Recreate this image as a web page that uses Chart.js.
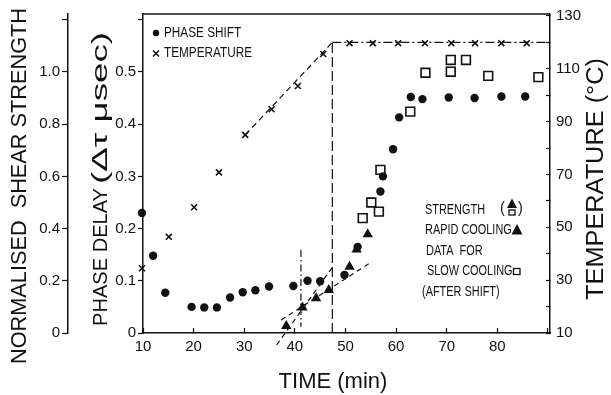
<!DOCTYPE html>
<html>
<head>
<meta charset="utf-8">
<script src="https://cdn.jsdelivr.net/npm/chart.js@4.4.1/dist/chart.umd.min.js"></script>
<style>
  html, body { margin: 0; padding: 0; background: #fff; }
  #wrap { width: 611px; height: 395px; }
</style>
</head>
<body>
<div id="wrap"><canvas id="chart"></canvas></div>
<script>
// Phase shift measurements (phase delay, usec) against cure time (min)
const phaseTime  = [9.8, 12.0, 14.4, 19.6, 22.1, 24.6, 27.2, 29.7, 32.2, 34.9, 39.7, 42.5, 45.0,
                    49.8, 52.4, 56.9, 57.4, 59.4, 60.6, 62.9, 65.2, 70.4, 75.5, 80.8, 85.5];
const phaseDelay = [0.230, 0.148, 0.077, 0.050, 0.049, 0.049, 0.068, 0.078, 0.082, 0.089, 0.090, 0.100, 0.099,
                    0.111, 0.165, 0.271, 0.300, 0.352, 0.413, 0.452, 0.448, 0.451, 0.450, 0.453, 0.453];

// Temperature readings (deg C)
const tempTime  = [9.8, 15.1, 20.1, 25.0, 30.2, 35.4, 40.6, 45.6, 50.8, 55.4, 60.4, 65.7, 70.9, 75.6, 80.8, 85.8];
const tempValue = [34.5, 46.4, 57.6, 70.8, 85.0, 94.7, 103.5, 115.6, 119.7, 119.7, 119.7, 119.7, 119.7, 119.7, 119.7, 119.7];

// Normalised shear strength, rapid cooling (triangles) and slow cooling (squares)
const rapidTime     = [38.3, 41.5, 44.2, 46.7, 50.8, 52.2, 54.4];
const rapidStrength = [0.027, 0.098, 0.133, 0.165, 0.254, 0.320, 0.378];
const slowTime      = [53.4, 55.1, 56.6, 56.9, 62.8, 65.8, 70.8, 70.8, 73.8, 78.2, 88.1];
const slowStrength  = [0.440, 0.500, 0.465, 0.625, 0.848, 0.997, 1.046, 1.001, 1.046, 0.985, 0.980];

// Guide lines
const riseTime     = [30.2, 47.4];   const riseTemp     = [85, 120];
const plateauTime  = [47.4, 90.4];   const plateauTemp  = [120, 120];
const shiftTime    = [47.4, 47.4];   const shiftTemp    = [10, 120];
const onsetTime    = [41.2, 41.2];   const onsetPhase   = [0.159, 0.012];
const steepTime    = [36.4, 47.5];   const steepPhase   = [-0.023, 0.127];
const shallowTime  = [37.3, 54.75];  const shallowPhase = [0.025, 0.1335];

// Axis ranges and tick labels
const timeRange     = [10, 90.4];
const phaseRange    = [0, 0.611];
const strengthRange = [0, 1.222];
const tempRange     = [10, 130.75];
const timeLabels     = [10, 20, 30, 40, 50, 60, 70, 80];
const phaseLabels    = [0, 0.1, 0.2, 0.3, 0.4, 0.5];
const strengthLabels = [0, 0.2, 0.4, 0.6, 0.8, 1.0];
const tempLabels     = [10, 30, 50, 70, 90, 110, 130];

const FONT = '"Liberation Sans", Arial, sans-serif';
const INK = '#111';

function pts(xs, ys) {
  return xs.map((x, i) => ({ x: x, y: ys[i] }));
}

function hasLabel(list, v) {
  return list.some(l => Math.abs(l - v) < 1e-6);
}

function fmt(v) {
  return v === 0 ? '0' : v.toFixed(1);
}

function guide(xs, ys, axis, dash) {
  return {
    data: pts(xs, ys),
    yAxisID: axis,
    showLine: true,
    borderColor: INK,
    borderWidth: 1.2,
    borderDash: dash,
    pointRadius: 0,
    clip: false,
    order: 3
  };
}

// Condensed text helper (horizontal squeeze)
function squeezed(ctx, text, x, y, size, sx) {
  ctx.save();
  ctx.font = size + 'px ' + FONT;
  ctx.translate(x, y);
  ctx.scale(sx, 1);
  ctx.textAlign = 'left';
  ctx.textBaseline = 'middle';
  ctx.fillText(text, 0, 0);
  ctx.restore();
}

// Rotated title, bottom-to-top, stretched to a given length
function vertical(ctx, text, cx, cy, size, len) {
  ctx.save();
  ctx.font = size + 'px ' + FONT;
  const w = ctx.measureText(text).width;
  ctx.translate(cx, cy);
  ctx.rotate(-Math.PI / 2);
  ctx.scale(len / w, 1);
  ctx.textAlign = 'center';
  ctx.textBaseline = 'middle';
  ctx.fillText(text, 0, 0);
  ctx.restore();
}

function tri(ctx, x, y, s) {
  ctx.beginPath();
  ctx.moveTo(x, y - s * 0.6);
  ctx.lineTo(x + s * 0.55, y + s * 0.45);
  ctx.lineTo(x - s * 0.55, y + s * 0.45);
  ctx.closePath();
  ctx.fill();
}

const decorations = {
  id: 'decorations',
  afterDraw(chart) {
    const ctx = chart.ctx;
    const a = chart.chartArea;
    ctx.save();
    ctx.fillStyle = INK;
    ctx.strokeStyle = INK;

    // top edge of the frame
    ctx.lineWidth = 1.5;
    ctx.beginPath();
    ctx.moveTo(a.left, a.top);
    ctx.lineTo(a.right, a.top);
    ctx.stroke();

    // axis titles
    vertical(ctx, 'NORMALISED  SHEAR STRENGTH', 20, 186, 22, 356);
    vertical(ctx, 'PHASE DELAY', 101, 257, 20, 138);
    vertical(ctx, '(\u0394\u03c4 \u03bcsec)', 101, 108, 22, 152);
    vertical(ctx, 'TEMPERATURE (\u00b0C)', 597, 179, 23, 242);
    ctx.font = '22px ' + FONT;
    ctx.textAlign = 'center';
    ctx.textBaseline = 'middle';
    ctx.fillText('TIME (min)', 333, 382);

    // legend, top left
    ctx.beginPath();
    ctx.arc(156, 33, 3.2, 0, Math.PI * 2);
    ctx.fill();
    squeezed(ctx, 'PHASE SHIFT', 164, 33.5, 14, 0.84);
    ctx.lineWidth = 1.5;
    ctx.beginPath();
    ctx.moveTo(153, 50.5); ctx.lineTo(159, 56.5);
    ctx.moveTo(159, 50.5); ctx.lineTo(153, 56.5);
    ctx.stroke();
    squeezed(ctx, 'TEMPERATURE', 164, 53.5, 14, 0.84);

    // legend, lower right
    squeezed(ctx, 'STRENGTH', 425, 210, 14, 0.78);
    squeezed(ctx, '(', 500, 209, 16, 0.9);
    tri(ctx, 512, 204, 9);
    ctx.lineWidth = 1.3;
    ctx.strokeRect(509, 210, 6, 5);
    squeezed(ctx, ')', 518, 209, 16, 0.9);
    squeezed(ctx, 'RAPID COOLING', 425, 230.5, 14, 0.78);
    tri(ctx, 517, 230, 10);
    squeezed(ctx, 'DATA  FOR', 426, 251, 14, 0.78);
    squeezed(ctx, 'SLOW COOLING', 427, 271.5, 14, 0.78);
    ctx.strokeRect(513.5, 268.5, 6.5, 6);
    squeezed(ctx, '(AFTER SHIFT)', 422, 292.5, 14, 0.78);

    ctx.restore();
  }
};

new Chart(document.getElementById('chart'), {
  type: 'scatter',
  data: {
    datasets: [
      {
        label: 'Phase shift',
        data: pts(phaseTime, phaseDelay),
        yAxisID: 'yPhase',
        pointStyle: 'circle',
        pointRadius: 4.2,
        backgroundColor: INK,
        borderColor: INK,
        borderWidth: 0,
        clip: false,
        order: 1
      },
      {
        label: 'Temperature',
        data: pts(tempTime, tempValue),
        yAxisID: 'yTemp',
        pointStyle: 'crossRot',
        pointRadius: 4.2,
        borderColor: INK,
        borderWidth: 1.6,
        clip: false,
        order: 1
      },
      {
        label: 'Rapid cooling',
        data: pts(rapidTime, rapidStrength),
        yAxisID: 'yStrength',
        pointStyle: 'triangle',
        pointRadius: 6,
        backgroundColor: INK,
        borderColor: INK,
        borderWidth: 0,
        clip: false,
        order: 1
      },
      {
        label: 'Slow cooling',
        data: pts(slowTime, slowStrength),
        yAxisID: 'yStrength',
        pointStyle: 'rect',
        pointRadius: 6.2,
        backgroundColor: 'rgba(255,255,255,0)',
        borderColor: INK,
        borderWidth: 1.6,
        clip: false,
        order: 0
      },
      guide(riseTime, riseTemp, 'yTemp', [6, 4]),
      guide(plateauTime, plateauTemp, 'yTemp', [9, 3, 2, 3]),
      guide(shiftTime, shiftTemp, 'yTemp', [10, 4]),
      guide(onsetTime, onsetPhase, 'yPhase', [7, 3, 1.5, 3]),
      guide(steepTime, steepPhase, 'yPhase', [5, 4]),
      guide(shallowTime, shallowPhase, 'yPhase', [5, 4])
    ]
  },
  options: {
    responsive: true,
    maintainAspectRatio: false,
    animation: false,
    layout: { padding: { top: 14, left: 0, right: 0, bottom: 0 } },
    plugins: {
      legend: { display: false },
      tooltip: { enabled: false }
    },
    scales: {
      x: {
        type: 'linear',
        min: timeRange[0],
        max: timeRange[1],
        afterFit(scale) {
          scale.height = 62;
          scale.paddingLeft = 0;
          scale.paddingRight = 0;
        },
        ticks: {
          stepSize: 10,
          includeBounds: false,
          autoSkip: false,
          maxRotation: 0,
          padding: 10,
          color: INK,
          font: { family: FONT, size: 15 },
          callback: v => hasLabel(timeLabels, v) ? v : ''
        },
        // negative length puts the tick marks inside the frame
        grid: { drawOnChartArea: false, tickLength: -5, color: INK, tickWidth: 1.2 },
        border: { color: INK, width: 1.5 }
      },
      yPhase: {
        type: 'linear',
        position: 'left',
        weight: 0,
        min: phaseRange[0],
        max: phaseRange[1],
        afterFit(scale) { scale.width = 75; },
        ticks: {
          stepSize: 0.1,
          includeBounds: false,
          padding: 2,
          color: INK,
          font: { family: FONT, size: 15 },
          callback: v => hasLabel(phaseLabels, v) ? fmt(v) : ''
        },
        grid: { drawOnChartArea: false, tickLength: 5, color: INK, tickWidth: 1.2 },
        border: { color: INK, width: 1.5 }
      },
      yStrength: {
        type: 'linear',
        position: 'left',
        weight: 1,
        min: strengthRange[0],
        max: strengthRange[1],
        afterFit(scale) { scale.width = 68; },
        ticks: {
          stepSize: 0.2,
          includeBounds: false,
          padding: 2,
          color: INK,
          font: { family: FONT, size: 15 },
          callback: v => hasLabel(strengthLabels, v) ? fmt(v) : ''
        },
        grid: { drawOnChartArea: false, tickLength: 6, color: INK, tickWidth: 1.2 },
        border: { color: INK, width: 1.5 }
      },
      yTemp: {
        type: 'linear',
        position: 'right',
        min: tempRange[0],
        max: tempRange[1],
        afterFit(scale) {
          scale.width = 61;
          scale.paddingTop = 0;
          scale.paddingBottom = 0;
        },
        ticks: {
          stepSize: 10,
          includeBounds: false,
          padding: 10,
          color: INK,
          font: { family: FONT, size: 15 },
          callback: v => hasLabel(tempLabels, v) ? v : ''
        },
        grid: { drawOnChartArea: false, tickLength: -4, color: INK, tickWidth: 1.2 },
        border: { color: INK, width: 1.5 }
      }
    }
  },
  plugins: [decorations]
});
</script>
</body>
</html>
